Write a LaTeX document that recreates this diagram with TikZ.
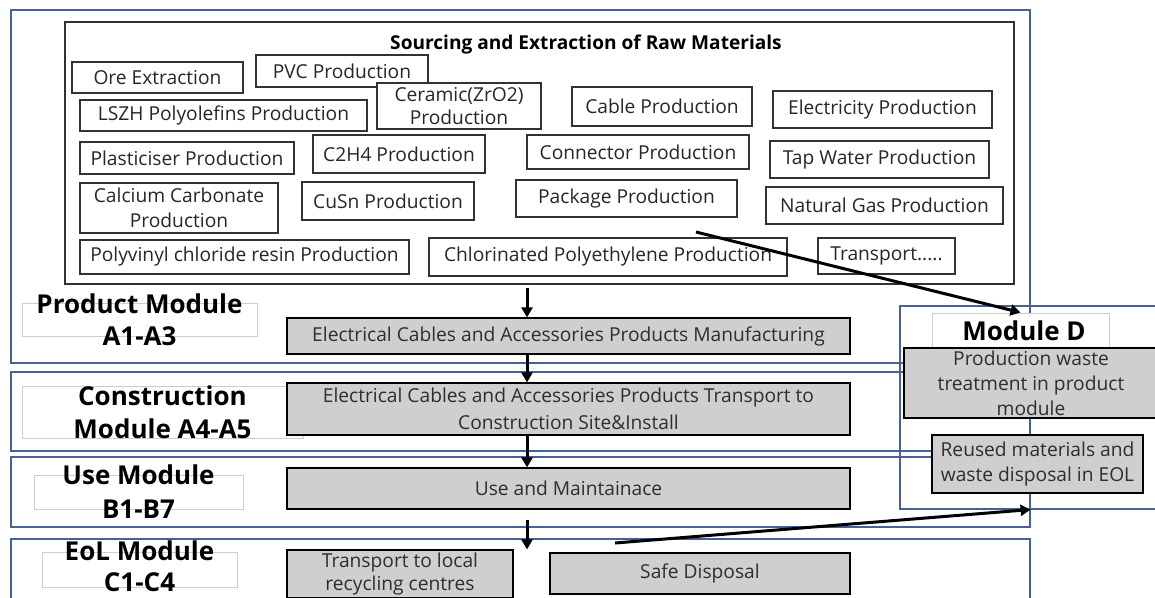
\documentclass[tikz,border=0pt]{standalone}
\usepackage{fontspec}
\setmainfont{Open Sans}
\usetikzlibrary{arrows.meta}
\definecolor{frameblue}{RGB}{68,98,150}
\definecolor{procgray}{RGB}{208,206,206}
\definecolor{lblgray}{RGB}{205,205,205}
\definecolor{boxdark}{RGB}{50,50,50}
\tikzset{
  frame/.style={draw=frameblue, line width=1.1pt},
  rawbox/.style={draw=boxdark, line width=1.4pt, fill=white, inner sep=0pt},
  inbox/.style={draw=boxdark, line width=1.2pt, fill=white, inner sep=0pt, align=center, font=\fontsize{19.2}{23}\selectfont, text=black!85},
  intext/.style={inner sep=0pt, align=center, font=\fontsize{19.2}{23}\selectfont, text=black!85},
  procbox/.style={draw=black, line width=1.2pt, fill=procgray, inner sep=0pt, align=center, font=\fontsize{19.2}{25}\selectfont, text=black!82},
  lblbox/.style={draw=lblgray, line width=1pt, fill=white, inner sep=0pt},
  lbltext/.style={inner sep=0pt, align=center, font=\fontsize{26}{32}\bfseries\selectfont},
  ttext/.style={inner sep=0pt, align=center, font=\fontsize{19.2}{25}\selectfont, text=black!82},
  arr/.style={line width=3pt, -{Triangle[length=10pt,width=11pt]}}
}
\begin{document}
\begin{tikzpicture}[x=1pt,y=-1pt]
\useasboundingbox (0,0) rectangle (1155,597);
\fill[white] (0,0) rectangle (1155,597);
% module frames
\node[frame, minimum width=1019, minimum height=353, inner sep=0pt] (prodframe) at (520.5,186.5) {};
\node[frame, minimum width=1019, minimum height=79, inner sep=0pt] (consframe) at (520.5,411.5) {};
\node[frame, minimum width=1019, minimum height=70, inner sep=0pt] (useframe) at (520.5,492) {};
\node[frame, minimum width=1019, minimum height=90, inner sep=0pt] (eolframe) at (520.5,584) {};
\node[frame, minimum width=280, minimum height=203, inner sep=0pt] (dframe) at (1040,407.5) {};
% raw materials
\node[rawbox, minimum width=949, minimum height=262] (raw) at (539.5,153) {};
\node[inner sep=0pt, font=\fontsize{19.1}{22}\bfseries\selectfont] (title) at (586,44) {Sourcing and Extraction of Raw Materials};
\node[inbox, minimum width=171, minimum height=31] (ore) at (157.5,77.5) {Ore Extraction};
\node[inbox, minimum width=172, minimum height=32] (pvc) at (342,71) {PVC Production};
\node[inbox, minimum width=164, minimum height=46] (ceramic) at (459,106) {};
\node[intext] (ceramict) at (ceramic.center) {Ceramic(ZrO2)\\Production};
\node[inbox, minimum width=287, minimum height=31] (lszh) at (223.5,115.5) {LSZH Polyolefins Production};
\node[inbox, minimum width=180, minimum height=39] (cable) at (662,106.5) {Cable Production};
\node[inbox, minimum width=219, minimum height=37] (elec) at (882.5,109.5) {Electricity Production};
\node[inbox, minimum width=214, minimum height=32] (plast) at (187,158) {Plasticiser Production};
\node[inbox, minimum width=172, minimum height=38] (c2h4) at (399,154) {C2H4 Production};
\node[inbox, minimum width=222, minimum height=34] (connector) at (638,152) {Connector Production};
\node[inbox, minimum width=219, minimum height=37] (tap) at (879.5,159.5) {Tap Water Production};
\node[inbox, minimum width=198, minimum height=50] (calcium) at (179,208) {};
\node[intext, font=\fontsize{19.2}{25}\selectfont] (calciumt) at (calcium.center) {Calcium Carbonate\\Production};
\node[inbox, minimum width=172, minimum height=38] (cusn) at (388,201) {CuSn Production};
\node[inbox, minimum width=221, minimum height=37] (package) at (626.5,198.5) {Package Production};
\node[inbox, minimum width=237, minimum height=37] (natgas) at (884.5,205.5) {Natural Gas Production};
\node[inbox, minimum width=329, minimum height=34] (pvcresin) at (244.5,257) {Polyvinyl chloride resin Production};
\node[inbox, minimum width=358, minimum height=38] (cpe) at (608,257) {Chlorinated Polyethylene Production};
\node[inbox, minimum width=137, minimum height=36] (transp) at (886.5,256) {Transport.....};
% module labels
\node[lblbox, minimum width=235, minimum height=33] (plb) at (139.5,319.5) {};
\node[lbltext] (plt) at (plb.center) {Product Module\\A1-A3};
\node[lblbox, minimum width=281, minimum height=52] (clb) at (162.5,412) {};
\node[lbltext, font=\fontsize{26}{33}\bfseries\selectfont] (clt) at (clb.center) {Construction\\Module A4-A5};
\node[lblbox, minimum width=209, minimum height=34] (ulb) at (138.5,492) {};
\node[lbltext, font=\fontsize{26}{34}\bfseries\selectfont] (ult) at (ulb.center) {Use Module\\B1-B7};
\node[lblbox, minimum width=195, minimum height=35] (elb) at (139.5,569.5) {};
\node[lbltext, font=\fontsize{26}{31}\bfseries\selectfont] (elt) at ([yshift=3pt]elb.center) {EoL Module\\C1-C4};
\node[lblbox, minimum width=177, minimum height=36] (dlb) at (1020.5,331) {};
\node[lbltext] (dlt) at (1024,331) {Module D};
% process boxes
\node[procbox, minimum width=563, minimum height=36] (manu) at (568.5,336) {Electrical Cables and Accessories Products Manufacturing};
\node[procbox, minimum width=563, minimum height=52] (trans) at (568.5,409) {};
\node[ttext, font=\fontsize{19.2}{27}\selectfont] (transt) at (trans.center) {Electrical Cables and Accessories Products Transport to\\Construction Site\&Install};
\node[procbox, minimum width=563, minimum height=41] (use) at (568.5,488.5) {Use and Maintainace};
\node[procbox, minimum width=226, minimum height=48] (recyc) at (400,574) {};
\node[ttext, font=\fontsize{19.2}{23}\selectfont] (recyct) at (recyc.center) {Transport to local\\recycling centres};
\node[procbox, minimum width=300, minimum height=41] (safe) at (700,573.5) {Safe Disposal};
\node[procbox, minimum width=254, minimum height=70] (pwbox) at (1031,383) {};
\node[ttext] (pwt) at (pwbox.center) {Production waste\\treatment in product\\module};
\node[procbox, minimum width=211, minimum height=58] (reused) at (1037.5,464) {};
\node[ttext] (reusedt) at (reused.center) {Reused materials and\\waste disposal in EOL};
% arrows
\coordinate (ax) at (527,0);
\coordinate (dstart) at (696,232);
\coordinate (estart) at (615,543);
\draw[arr] ([yshift=-3pt]raw.south -| ax) -- (manu.north -| ax);
\draw[arr] (manu.south -| ax) -- (trans.north -| ax);
\draw[arr] (trans.south -| ax) -- (use.north -| ax);
\draw[arr] ([yshift=-10pt]use.south -| ax) -- (recyc.north -| ax);
\draw[arr] (dstart) -- (dlb.north);
\draw[arr] (estart) -- (dframe.south -| useframe.east);
\end{tikzpicture}
\end{document}
